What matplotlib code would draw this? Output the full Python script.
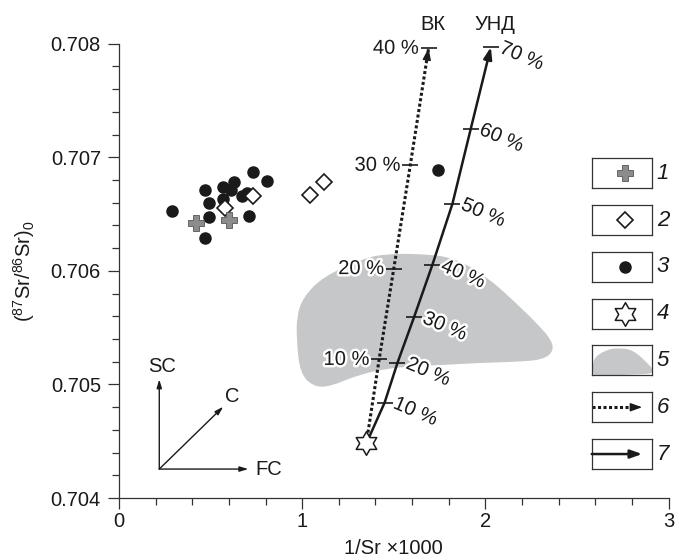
import numpy as np
import matplotlib
matplotlib.use('Agg')
from matplotlib import pyplot as plt
from matplotlib.path import Path
from matplotlib.patches import PathPatch
from matplotlib.ticker import MultipleLocator, FormatStrFormatter
import matplotlib.patheffects as pe

plt.rcParams['font.family'] = ['Liberation Sans', 'DejaVu Sans']
plt.rcParams['mathtext.default'] = 'regular'

# --- data ---
dots_x = [0.29, 0.47, 0.49, 0.49, 0.47, 0.57, 0.57, 0.63, 0.61, 0.67, 0.70, 0.73, 0.81, 0.71, 1.74]
dots_y = [0.70653, 0.70671, 0.70660, 0.70647, 0.70629, 0.70674, 0.70663, 0.70678,
          0.70671, 0.70666, 0.70669, 0.70687, 0.70679, 0.70648, 0.70689]
cross_x = [0.42, 0.60]
cross_y = [0.70642, 0.70645]
diam_x = [0.58, 0.73, 1.04, 1.12]
diam_y = [0.70655, 0.70666, 0.70667, 0.70678]
star_x = [1.35]
star_y = [0.70448]

# mixing lines (ВК dotted, УНД solid), tick positions by percentage
vk_pct = [10, 20, 30, 40]
vk_x = [1.42, 1.50, 1.59, 1.69]
vk_y = [0.70522, 0.70602, 0.70693, 0.70796]
und_pct = [10, 20, 30, 40, 50, 60, 70]
und_x = [1.45, 1.52, 1.61, 1.71, 1.82, 1.92, 2.03]
und_y = [0.70484, 0.70519, 0.70559, 0.70605, 0.70659, 0.70725, 0.70797]

# gray field outline
blob_x = [1.115, 1.334, 1.461, 1.643, 1.825, 2.007, 2.152, 2.280, 2.362, 2.371, 2.316, 2.189,
          1.971, 1.752, 1.606, 1.461, 1.297, 1.152, 1.061, 0.988, 0.970, 0.970, 1.006]
blob_y = [0.70595, 0.70611, 0.70615, 0.70615, 0.70612, 0.70595, 0.70574, 0.70554, 0.70539,
          0.70529, 0.70522, 0.70520, 0.70519, 0.70517, 0.70516, 0.70514, 0.70508, 0.70498,
          0.70498, 0.70510, 0.70539, 0.70560, 0.70577]

# process vectors SC / C / FC
vec_origin = (0.22, 0.704255)
vec_tips = {'SC': (0.22, 0.705045), 'C': (0.569, 0.704804), 'FC': (0.706, 0.704255)}

legend_labels = ['1', '2', '3', '4', '5', '6', '7']

ink = '#1a1a1a'
gray_field = '#c6c7c9'
gray_cross = '#8c8c8c'
halo = [pe.withStroke(linewidth=3.5, foreground='white')]
fs_tick = 14.5
fs_pct = 14.5


def hexagram():
    ang = np.deg2rad(90 + 30 * np.arange(12))
    r = np.where(np.arange(12) % 2 == 0, 1.0, 0.577)
    verts = np.column_stack([r * np.cos(ang), r * np.sin(ang)])
    verts = np.vstack([verts, verts[:1]])
    codes = [Path.MOVETO] + [Path.LINETO] * 11 + [Path.CLOSEPOLY]
    return Path(verts, codes)


def smooth_closed_path(xs, ys):
    # quadratic curves through edge midpoints, control points at the given vertices
    pts = np.column_stack([xs, ys])
    n = len(pts)
    mids = (pts + np.roll(pts, -1, axis=0)) / 2
    verts = [mids[-1]]
    codes = [Path.MOVETO]
    for i in range(n):
        verts += [pts[i], mids[i]]
        codes += [Path.CURVE3, Path.CURVE3]
    verts.append(mids[-1])
    codes.append(Path.CLOSEPOLY)
    return Path(np.array(verts), codes)


STAR = hexagram()

fig = plt.figure(figsize=(6.81, 5.57), dpi=100)
ax = fig.add_axes([0.1747, 0.1059, 0.8071, 0.8156])
ax.set_xlim(0, 3)
ax.set_ylim(0.704, 0.708)

for side in ['top', 'right']:
    ax.spines[side].set_visible(False)
for side in ['left', 'bottom']:
    ax.spines[side].set_linewidth(0.9)
    ax.spines[side].set_color('#333333')

ax.set_xticks([0, 1, 2, 3])
ax.xaxis.set_minor_locator(MultipleLocator(0.2))
ax.set_yticks([0.704, 0.705, 0.706, 0.707, 0.708])
ax.yaxis.set_minor_locator(MultipleLocator(0.0002))
ax.yaxis.set_major_formatter(FormatStrFormatter('%.3f'))
ax.xaxis.set_major_formatter(FormatStrFormatter('%d'))
ax.tick_params(which='major', length=8, width=0.9, color='#333333', labelsize=fs_tick,
               labelcolor=ink)
ax.tick_params(which='minor', length=5, width=0.9, color='#333333')
ax.tick_params(axis='x', which='major', pad=2)
ax.tick_params(axis='y', which='major', pad=5)

ax.set_xlabel('1/Sr ×1000', fontsize=fs_tick, color=ink, labelpad=6)
ax.set_ylabel(r'$(^{87}Sr/^{86}Sr)_0$', fontsize=fs_tick, color=ink, labelpad=10)

# gray field
ax.add_patch(PathPatch(smooth_closed_path(blob_x, blob_y), facecolor=gray_field,
                       edgecolor='none', zorder=1))

# ВК dotted line
line_x = star_x + vk_x
line_y = star_y + vk_y
ax.plot(line_x, line_y, color=ink, lw=2.2, linestyle=(0, (1, 0.8)),
        dash_capstyle='butt', zorder=3)
ax.annotate('', xy=(vk_x[-1], vk_y[-1]),
            xytext=(vk_x[-1] - 0.05 * (vk_x[-1] - vk_x[-2]), vk_y[-1] - 0.05 * (vk_y[-1] - vk_y[-2])),
            arrowprops=dict(arrowstyle='-|>,head_length=0.7,head_width=0.25', lw=1,
                            color=ink, shrinkA=0, shrinkB=0), zorder=4)
ax.plot(vk_x, vk_y, linestyle='none', marker='_', markersize=11, mew=1.2, color=ink, zorder=4)
for p, x, y in zip(vk_pct, vk_x, vk_y):
    ax.annotate(f'{p} %', xy=(x, y), xytext=(-7, 0), textcoords='offset points',
                ha='right', va='center', fontsize=fs_pct, color=ink, path_effects=halo, zorder=5)

# УНД solid line
line_x = star_x + und_x
line_y = star_y + und_y
ax.plot(line_x[:-1], line_y[:-1], color=ink, lw=1.8, solid_capstyle='butt', zorder=3)
ax.annotate('', xy=(und_x[-1], und_y[-1]), xytext=(und_x[-2], und_y[-2]),
            arrowprops=dict(arrowstyle='-|>,head_length=0.7,head_width=0.25', lw=1.8,
                            color=ink, shrinkA=0, shrinkB=0), zorder=4)
ax.plot(und_x, und_y, linestyle='none', marker='_', markersize=11, mew=1.2, color=ink, zorder=4)
for p, x, y in zip(und_pct, und_x, und_y):
    ax.annotate(f'{p} %', xy=(x, y), xytext=(7, 0), textcoords='offset points',
                ha='left', va='center', rotation=-23, rotation_mode='anchor',
                fontsize=fs_pct, color=ink, path_effects=halo, zorder=5)

ax.text(1.716, 0.70817, 'ВК', ha='center', va='center', fontsize=fs_pct, color=ink, clip_on=False)
ax.text(2.052, 0.70817, 'УНД', ha='center', va='center', fontsize=fs_pct, color=ink, clip_on=False)

# points
ax.plot(dots_x, dots_y, linestyle='none', marker='o', markersize=8, color=ink, zorder=6)
ax.plot(diam_x, diam_y, linestyle='none', marker='D', markersize=8.5, mfc='white',
        mec=ink, mew=1.2, zorder=7)
ax.plot(cross_x, cross_y, linestyle='none', marker='P', markersize=12, mfc=gray_cross,
        mec='#555555', mew=0.6, zorder=8)
ax.plot(star_x, star_y, linestyle='none', marker=STAR, markersize=17, mfc='white',
        mec=ink, mew=1.1, zorder=8)

# process vectors
for name, tip in vec_tips.items():
    ax.annotate('', xy=tip, xytext=vec_origin,
                arrowprops=dict(arrowstyle='-|>,head_length=0.5,head_width=0.15', lw=1,
                                color=ink, shrinkA=0, shrinkB=0))
ax.text(0.233, 0.705156, 'SC', ha='center', va='center', fontsize=fs_pct, color=ink)
ax.text(0.579, 0.704892, 'C', ha='left', va='center', fontsize=fs_pct, color=ink)
ax.text(0.742, 0.704255, 'FC', ha='left', va='center', fontsize=fs_pct, color=ink)

# legend boxes
box_left, box_w, box_h = 0.8689, 0.0881, 0.0539
box_bottom0, box_step = 0.6619, 0.0840
for i, lab in enumerate(legend_labels):
    b = box_bottom0 - i * box_step
    lax = fig.add_axes([box_left, b, box_w, box_h])
    lax.set_xlim(0, 1)
    lax.set_ylim(0, 1)
    lax.set_xticks([])
    lax.set_yticks([])
    for s in lax.spines.values():
        s.set_linewidth(0.9)
        s.set_color('#333333')
    if lab == '1':
        lax.plot([0.55], [0.5], marker='P', markersize=12, mfc=gray_cross, mec='#555555', mew=0.6)
    elif lab == '2':
        lax.plot([0.55], [0.5], marker='D', markersize=8.5, mfc='white', mec=ink, mew=1.2)
    elif lab == '3':
        lax.plot([0.55], [0.5], marker='o', markersize=8, color=ink)
    elif lab == '4':
        lax.plot([0.55], [0.5], marker=STAR, markersize=17, mfc='white', mec=ink, mew=1.1)
    elif lab == '5':
        bx = (np.array(blob_x) - 0.97) / 1.4 * 1.0 + 0.02
        by = (np.array(blob_y) - 0.70498) / 0.00117 * 1.05 - 0.15
        lax.add_patch(PathPatch(smooth_closed_path(bx, by), facecolor=gray_field, edgecolor='none'))
    elif lab == '6':
        lax.plot([0, 0.72], [0.5, 0.5], color=ink, lw=2.2, linestyle=(0, (1, 0.8)),
                 dash_capstyle='butt')
        lax.annotate('', xy=(0.84, 0.5), xytext=(0.7, 0.5),
                     arrowprops=dict(arrowstyle='-|>,head_length=0.7,head_width=0.25', lw=1,
                                     color=ink, shrinkA=0, shrinkB=0))
    else:
        lax.annotate('', xy=(0.84, 0.5), xytext=(0, 0.5),
                     arrowprops=dict(arrowstyle='-|>,head_length=0.7,head_width=0.25', lw=1.8,
                                     color=ink, shrinkA=0, shrinkB=0))
    fig.text(0.9736, b + box_h / 2, lab, ha='center', va='center', fontsize=16,
             style='italic', color=ink)

fig.savefig('out.png', dpi=100)
